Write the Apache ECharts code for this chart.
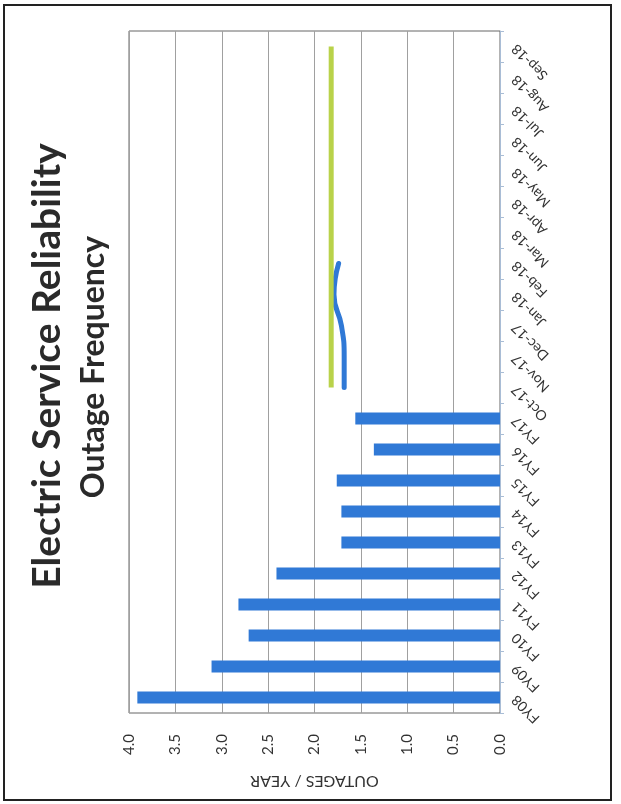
<!DOCTYPE html>
<html>
<head>
<meta charset="utf-8">
<script src="https://cdn.jsdelivr.net/npm/echarts@6/dist/echarts.min.js"></script>
<style>
html,body{margin:0;padding:0;background:#fff;}
#chart{width:621px;height:804px;}
</style>
</head>
<body>
<div id="chart"></div>
<script>
var categories = ['FY08','FY09','FY10','FY11','FY12','FY13','FY14','FY15','FY16','FY17',
  'Oct-17','Nov-17','Dec-17','Jan-18','Feb-18','Mar-18','Apr-18','May-18','Jun-18','Jul-18','Aug-18','Sep-18'];
var annualValues = [3.91,3.11,2.71,2.82,2.41,1.71,1.71,1.76,1.36,1.56,
  null,null,null,null,null,null,null,null,null,null,null,null];
var monthlyValues = [null,null,null,null,null,null,null,null,null,null,
  1.68,1.68,1.71,1.79,1.74,null,null,null,null,null,null,null];
var targetValues = [null,null,null,null,null,null,null,null,null,null,
  1.82,1.82,1.82,1.82,1.82,1.82,1.82,1.82,1.82,1.82,1.82,1.82];
var titleText = 'Electric Service Reliability';
var subtitleText = 'Outage Frequency';
var axisName = 'OUTAGES / YEAR';

var FONT = 'Lato, "Open Sans", sans-serif';
var chart = echarts.init(document.getElementById('chart'), null, {renderer:'canvas'});
chart.setOption({
  backgroundColor:'#fff',
  animation:false,
  grid:{left:129, right:121, top:31, bottom:91, show:true, borderColor:'#666', borderWidth:1},
  graphic:[
    {type:'rect', shape:{x:4, y:5, width:607, height:795}, style:{fill:'none', stroke:'#222', lineWidth:2}},
    {type:'text', x:47, y:366, rotation:Math.PI/2,
      style:{text:titleText, font:'bold 39px ' + FONT, fill:'#2a2a2a', textAlign:'center', textVerticalAlign:'middle'}},
    {type:'text', x:94, y:367, rotation:Math.PI/2,
      style:{text:subtitleText, font:'bold 32px ' + FONT, fill:'#2a2a2a', textAlign:'center', textVerticalAlign:'middle'}}
  ],
  xAxis:{
    type:'value', min:0, max:4, interval:0.5, inverse:true, position:'bottom',
    name:axisName, nameLocation:'middle', nameGap:60, nameRotate:180,
    nameTextStyle:{fontFamily:FONT, fontSize:16, color:'#333'},
    axisLine:{show:false}, axisTick:{show:false},
    axisLabel:{rotate:90, margin:21, fontFamily:FONT, fontSize:15, color:'#333',
      formatter:function(v){return v.toFixed(1);}},
    splitLine:{show:true, lineStyle:{color:'#a0a0a0', width:1}}
  },
  yAxis:{
    type:'category', data:categories, position:'right', boundaryGap:true,
    axisLine:{show:true, lineStyle:{color:'#a9bdd6', width:1}},
    axisTick:{show:true, inside:false, length:4, lineStyle:{color:'#a9bdd6'}},
    axisLabel:{rotate:135, margin:14, fontFamily:FONT, fontSize:14, color:'#333', interval:0},
    splitLine:{show:false}
  },
  series:[
    {type:'bar', data:annualValues, barWidth:12, itemStyle:{color:'#3079d6'}},
    {type:'line', data:monthlyValues, smooth:true, showSymbol:false, connectNulls:false,
      lineStyle:{color:'#3079d6', width:5, cap:'round'}},
    {type:'line', data:targetValues, showSymbol:false,
      lineStyle:{color:'#b9d24a', width:5}}
  ]
});
</script>
</body>
</html>
